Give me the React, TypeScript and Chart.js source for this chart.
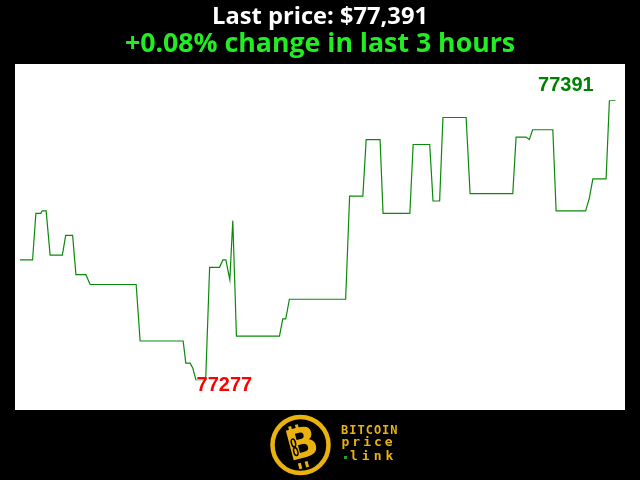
import React, { useEffect, useRef } from "react";
import { Chart, registerables } from "chart.js";

Chart.register(...registerables);

// minutes since start of the 3-hour window
const minutes = [
  0, 3.8, 4.8, 6.3, 6.7, 7.9, 9.1, 12.8, 13.8, 15.9, 16.9, 19.9, 21.2, 35.1, 36.3,
  49.3, 50.1, 51.4, 52.2, 53.2, 56.1, 57.3, 60.3, 61.3, 62.2, 63.4, 64.3, 65.4,
  78.4, 79.4, 80.3, 81.4, 98.4, 99.6, 103.6, 104.6, 108.8, 109.7, 117.8, 118.8,
  123.8, 124.8, 126.8, 127.8, 134.8, 136.0, 148.9, 149.9, 152.9, 153.9, 154.9,
  161.0, 162.0, 170.9, 172.0, 173.1, 177.1, 178.1, 180,
];
// BTC price (USD)
const prices = [
  77326, 77326, 77345, 77345, 77346, 77346, 77328, 77328, 77336, 77336, 77320,
  77320, 77316, 77316, 77293, 77293, 77284, 77284, 77282, 77277, 77277, 77323,
  77323, 77326, 77326, 77318, 77342, 77295, 77295, 77302, 77302, 77310, 77310,
  77352, 77352, 77375, 77375, 77345, 77345, 77373, 77373, 77350, 77350, 77384,
  77384, 77353, 77353, 77376, 77376, 77375, 77379, 77379, 77346, 77346, 77351,
  77359, 77359, 77391, 77391,
];
const titleText = "Last price: $77,391";
const subtitleText = "+0.08% change in last 3 hours";
const logoLines = ["BITCOIN", "price", "link"];

const GOLD = "#eab20e";

const decorPlugin = {
  id: "decor",
  beforeDraw(chart: any) {
    const ctx = chart.ctx as CanvasRenderingContext2D;
    const W = chart.width;
    const H = chart.height;
    ctx.save();
    ctx.fillStyle = "#000";
    ctx.fillRect(0, 0, W, H);
    ctx.fillStyle = "#fff";
    ctx.fillRect(15, 64, 610, 346);

    ctx.textAlign = "center";
    ctx.textBaseline = "alphabetic";
    ctx.fillStyle = "#fff";
    ctx.font = "bold 23.7px 'Open Sans'";
    ctx.fillText(titleText, 320, 24);
    ctx.fillStyle = "#22ec22";
    ctx.font = "bold 26.7px 'Open Sans'";
    ctx.fillText(subtitleText, 320, 51.5);

    // logo
    const cx = 300.5, cy = 445, r = 28;
    ctx.strokeStyle = GOLD;
    ctx.lineWidth = 4.5;
    ctx.beginPath();
    ctx.arc(cx, cy, r, 0, Math.PI * 2);
    ctx.stroke();
    ctx.save();
    ctx.translate(cx + 1, cy + 1);
    ctx.rotate(-0.26);
    ctx.fillStyle = GOLD;
    ctx.fillRect(-8, -22, 3, 6);
    ctx.fillRect(-1, -22, 3, 6);
    ctx.fillRect(-8, 16, 3, 6);
    ctx.fillRect(-1, 16, 3, 6);
    ctx.font = "bold 42px 'DejaVu Sans'";
    ctx.textAlign = "center";
    ctx.textBaseline = "middle";
    ctx.fillText("B", 1, 1);
    ctx.strokeStyle = "#000";
    ctx.lineWidth = 1.5;
    ctx.beginPath();
    ctx.ellipse(-7, -5, 2, 4, 0, 0, Math.PI * 2);
    ctx.stroke();
    ctx.beginPath();
    ctx.ellipse(-7, 4, 2, 4, 0, 0, Math.PI * 2);
    ctx.stroke();
    ctx.restore();

    ctx.textAlign = "left";
    ctx.textBaseline = "alphabetic";
    ctx.fillStyle = GOLD;
    const c: any = ctx;
    ctx.font = "bold 12px 'DejaVu Sans Mono'";
    c.letterSpacing = "1px";
    ctx.fillText(logoLines[0], 341, 433.5);
    ctx.font = "bold 13px 'DejaVu Sans Mono'";
    c.letterSpacing = "3px";
    ctx.fillText(logoLines[1], 341.5, 446);
    c.letterSpacing = "4px";
    ctx.fillText(logoLines[2], 350, 460);
    c.letterSpacing = "0px";
    ctx.fillStyle = "#22a322";
    ctx.fillRect(344, 456, 3, 3);
    ctx.restore();
  },
  afterDatasetsDraw(chart: any) {
    const ctx = chart.ctx as CanvasRenderingContext2D;
    const xs = chart.scales.x;
    const ys = chart.scales.y;
    const maxV = Math.max(...prices);
    const minV = Math.min(...prices);
    const lastIdx = prices.length - 1;
    const minIdx = prices.indexOf(minV);
    ctx.save();
    ctx.font = "bold 20px 'Liberation Sans'";
    ctx.textBaseline = "alphabetic";
    ctx.fillStyle = "#008000";
    ctx.textAlign = "right";
    ctx.fillText(String(maxV), xs.getPixelForValue(minutes[lastIdx]) - 22, ys.getPixelForValue(prices[lastIdx]) - 9.5);
    ctx.fillStyle = "#ff0000";
    ctx.textAlign = "left";
    ctx.fillText(String(minV), xs.getPixelForValue(minutes[minIdx]) + 0.5, ys.getPixelForValue(minV) + 11);
    ctx.restore();
  },
};

export default function App() {
  const ref = useRef<HTMLCanvasElement | null>(null);
  useEffect(() => {
    if (!ref.current) return;
    const chart = new Chart(ref.current, {
      type: "line",
      data: {
        datasets: [
          {
            data: minutes.map((m, i) => ({ x: m, y: prices[i] })),
            borderColor: "#0a8a0a",
            borderWidth: 1.2,
            pointRadius: 0,
            tension: 0,
            fill: false,
          },
        ],
      },
      options: {
        animation: false,
        responsive: false,
        maintainAspectRatio: false,
        layout: { padding: { left: 20, right: 24.3, top: 100.3, bottom: 99.7 } },
        scales: {
          x: { type: "linear", min: 0, max: 180, display: false },
          y: { min: 77277, max: 77391, display: false },
        },
        plugins: { legend: { display: false }, tooltip: { enabled: false }, title: { display: false } },
      },
      plugins: [decorPlugin],
    });
    return () => chart.destroy();
  }, []);
  return (
    <div style={{ position: "fixed", left: 0, top: 0, width: 640, height: 480, background: "#000" }}>
      <canvas ref={ref} width={640} height={480} style={{ width: 640, height: 480, display: "block" }} />
    </div>
  );
}
